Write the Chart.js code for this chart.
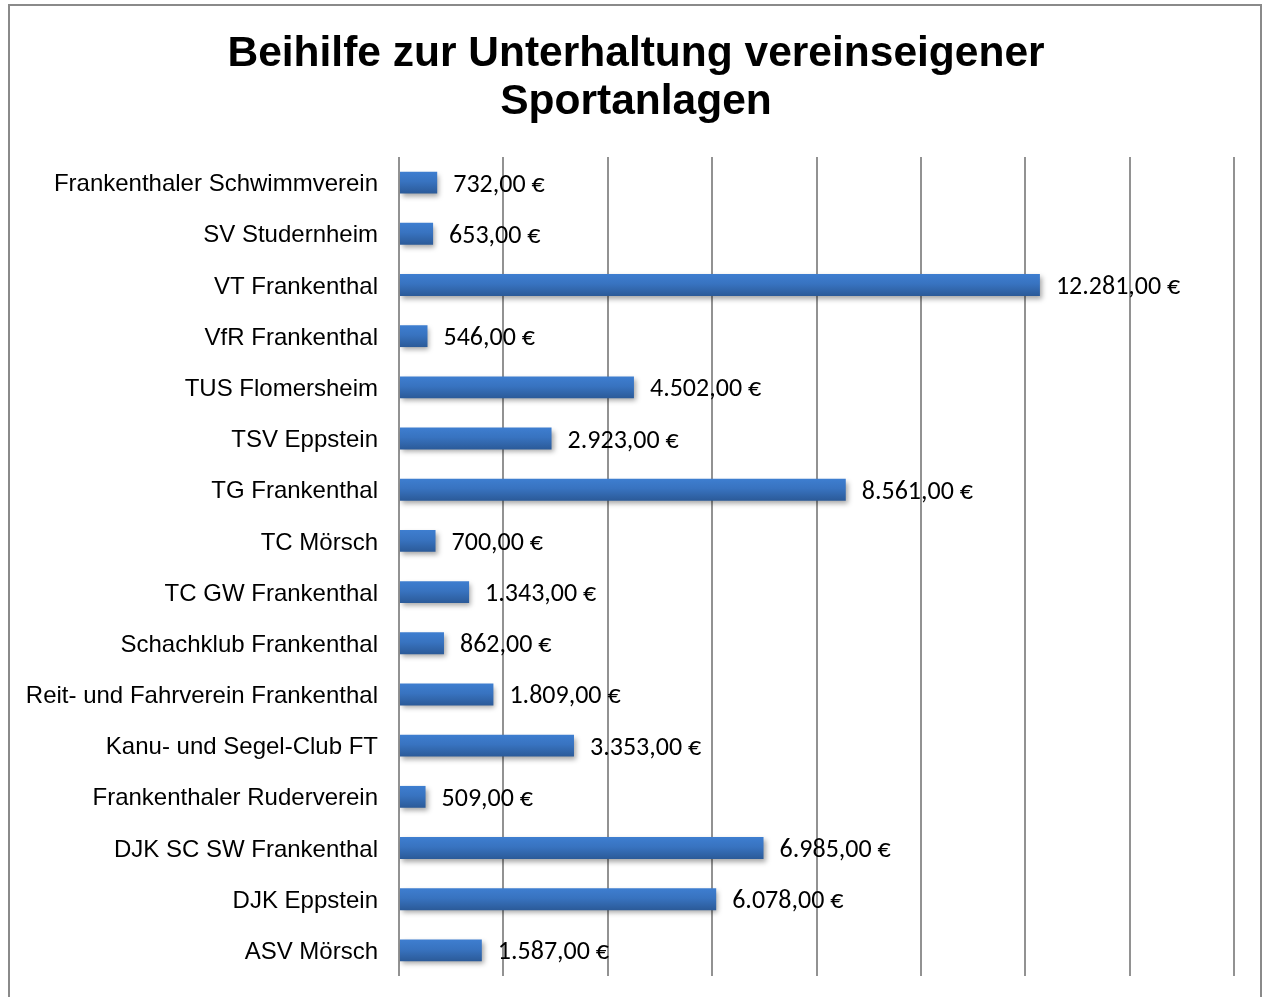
<!DOCTYPE html>
<html>
<head>
<meta charset="utf-8">
<script src="https://cdn.jsdelivr.net/npm/chart.js@4"></script>
<style>
html,body{margin:0;padding:0;background:#fff;}
#wrap{position:absolute;left:0;top:0;width:1263px;height:997px;}
</style>
</head>
<body>
<div id="wrap"><canvas id="c" width="1263" height="997"></canvas></div>
<script>
const titleLines = ["Beihilfe zur Unterhaltung vereinseigener", "Sportanlagen"];
const categories = [
  "Frankenthaler Schwimmverein",
  "SV Studernheim",
  "VT Frankenthal",
  "VfR Frankenthal",
  "TUS Flomersheim",
  "TSV Eppstein",
  "TG Frankenthal",
  "TC Mörsch",
  "TC GW Frankenthal",
  "Schachklub Frankenthal",
  "Reit- und Fahrverein Frankenthal",
  "Kanu- und Segel-Club FT",
  "Frankenthaler Ruderverein",
  "DJK SC SW Frankenthal",
  "DJK Eppstein",
  "ASV Mörsch"
];
const amounts = [732, 653, 12281, 546, 4502, 2923, 8561, 700, 1343, 862, 1809, 3353, 509, 6985, 6078, 1587];
const axisMin = 0, axisMax = 16000, axisStep = 2000;

function fmtEuro(v){
  const parts = v.toFixed(2).split('.');
  const intPart = parts[0].replace(/\B(?=(\d{3})+(?!\d))/g, '.');
  return intPart + ',' + parts[1] + ' €';
}

const borderTitlePlugin = {
  id: 'outerBorderTitle',
  beforeDraw(chart){
    const ctx = chart.ctx;
    ctx.save();
    ctx.fillStyle = '#fff';
    ctx.fillRect(0,0,chart.width,chart.height);
    ctx.strokeStyle = '#8a8a8a';
    ctx.lineWidth = 2;
    ctx.strokeRect(9, 5, 1252, 1000);
    ctx.fillStyle = '#000';
    ctx.font = 'bold 42.5px "Liberation Sans", Arial, sans-serif';
    ctx.textAlign = 'center';
    ctx.textBaseline = 'middle';
    titleLines.forEach((t, i) => ctx.fillText(t, 636, 54 + i * 48));
    ctx.restore();
  }
};

const shadowPlugin = {
  id: 'barShadow',
  beforeDatasetDraw(chart){
    const ctx = chart.ctx;
    ctx.save();
    ctx.shadowColor = 'rgba(0,0,0,0.35)';
    ctx.shadowBlur = 5;
    ctx.shadowOffsetX = 2;
    ctx.shadowOffsetY = 3;
  },
  afterDatasetDraw(chart){
    chart.ctx.restore();
  }
};

const labelPlugin = {
  id: 'valueLabels',
  afterDatasetsDraw(chart){
    const ctx = chart.ctx;
    const meta = chart.getDatasetMeta(0);
    ctx.save();
    ctx.font = '26px Carlito, Lato, sans-serif';
    ctx.fillStyle = '#000';
    ctx.textAlign = 'left';
    ctx.textBaseline = 'middle';
    meta.data.forEach((bar, i) => {
      ctx.fillText(fmtEuro(amounts[i]), bar.x + 16, bar.y + 2.5);
    });
    ctx.restore();
  }
};

const ctx = document.getElementById('c').getContext('2d');
new Chart(ctx, {
  type: 'bar',
  data: {
    labels: categories,
    datasets: [{
      data: amounts,
      backgroundColor: (c) => {
        const chart = c.chart;
        const ys = chart.scales && chart.scales.y;
        if (!ys || c.dataIndex === undefined || !chart.chartArea) return '#3872bd';
        const yc = ys.getPixelForValue(c.dataIndex);
        const h = 11;
        const g = chart.ctx.createLinearGradient(0, yc - h, 0, yc + h);
        g.addColorStop(0, '#3e7ed0');
        g.addColorStop(0.45, '#3873c0');
        g.addColorStop(1, '#2b5a98');
        return g;
      },
      borderWidth: 0,
      barPercentage: 0.82,
      categoryPercentage: 0.52
    }]
  },
  options: {
    indexAxis: 'y',
    responsive: false,
    maintainAspectRatio: false,
    animation: false,
    devicePixelRatio: 1,
    layout: { padding: { left: 0, right: 29, top: 157, bottom: 21 } },
    plugins: {
      legend: { display: false },
      tooltip: { enabled: false },
      title: { display: false }
    },
    scales: {
      x: {
        min: axisMin, max: axisMax,
        ticks: { display: false, stepSize: axisStep },
        grid: { color: '#929292', lineWidth: 2, drawTicks: false },
        border: { display: false },
        afterFit(s){ s.height = 0; s.paddingLeft = 0; s.paddingRight = 0; s.paddingTop = 0; s.paddingBottom = 0; }
      },
      y: {
        grid: { display: false, drawTicks: false },
        border: { display: false },
        ticks: {
          color: '#000',
          padding: 21,
          labelOffset: 2,
          font: { family: '"Liberation Sans", Arial, sans-serif', size: 24 }
        },
        afterFit(s){ s.width = 399; s.paddingTop = 0; s.paddingBottom = 0; }
      }
    }
  },
  plugins: [borderTitlePlugin, shadowPlugin, labelPlugin]
});
</script>
</body>
</html>
